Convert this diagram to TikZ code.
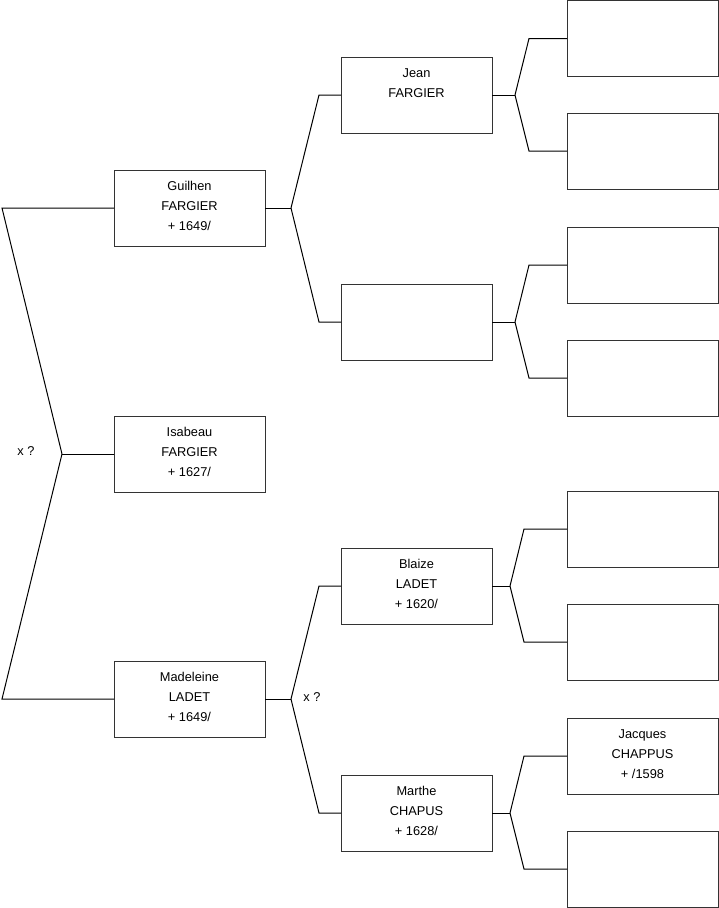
\documentclass[tikz,border=0pt]{standalone}
\usepackage{fontspec}
\setmainfont{Liberation Sans}
\usepackage{tikz}
\tikzset{
  fiche/.style = {draw=black!80,line width=1pt,minimum width=151pt,minimum height=76pt,
                  inner sep=0pt,outer sep=0pt,font=\fontsize{12.8}{19.8}\selectfont},
  lien/.style  = {black,line width=1pt},
  note/.style  = {font=\fontsize{12.8}{15}\selectfont,inner sep=0pt}
}
\newcommand{\nom}[1]{\parbox[c][76pt][t]{150pt}{\centering\rule{0pt}{20.6pt}#1}}

\begin{document}
\begin{tikzpicture}[x=1pt,y=-1pt]
  \useasboundingbox (0,0) rectangle (719,908);
  % generation 1 et 2
  \node[fiche] (isabeau)   at (189.5,454) {\nom{Isabeau\\FARGIER\\+ 1627/}};
  \node[fiche] (guilhen)   at (189.5,208) {\nom{Guilhen\\FARGIER\\+ 1649/}};
  \node[fiche] (madeleine) at (189.5,699) {\nom{Madeleine\\LADET\\+ 1649/}};
  % generation 3
  \node[fiche] (jean)   at (416.5,95)  {\nom{Jean\\FARGIER}};
  \node[fiche] (vide)   at (416.5,322) {};
  \node[fiche] (blaize) at (416.5,586) {\nom{Blaize\\LADET\\+ 1620/}};
  \node[fiche] (marthe) at (416.5,813) {\nom{Marthe\\CHAPUS\\+ 1628/}};
  % generation 4
  \node[fiche] (ja) at (642.5,38.5) {};
  \node[fiche] (jb) at (642.5,151)  {};
  \node[fiche] (va) at (642.5,265)  {};
  \node[fiche] (vb) at (642.5,378)  {};
  \node[fiche] (ba) at (642.5,529)  {};
  \node[fiche] (bb) at (642.5,642)  {};
  \node[fiche] (jacques) at (642.5,756) {\nom{Jacques\\CHAPPUS\\+ /1598}};
  \node[fiche] (cb) at (642.5,869)  {};

  % points de fourche
  \coordinate (r) at (62,454);
  \coordinate (g) at (291,208);
  \coordinate (m) at (291,699);
  \coordinate (j) at (515,95);
  \coordinate (v) at (515,322);
  \coordinate (b) at (510,586);
  \coordinate (c) at (510,813);

  \draw[lien] (isabeau.west) -- (r);
  \draw[lien] (r) -- ++(-60,-246) -- (guilhen.west);
  \draw[lien] (r) -- ++(-60,245) -- (madeleine.west);
  \node[note] (xa) at (26,451) {x ?};

  \draw[lien] (guilhen.east) -- (g);
  \draw[lien] (g) -- ++(28,-113) -- (jean.west);
  \draw[lien] (g) -- ++(28,114) -- (vide.west);

  \draw[lien] (madeleine.east) -- (m);
  \draw[lien] (m) -- ++(28,-113) -- (blaize.west);
  \draw[lien] (m) -- ++(28,114) -- (marthe.west);
  \node[note] (xb) at (312,697) {x ?};

  \draw[lien] (jean.east) -- (j);
  \draw[lien] (j) -- ++(14,-56.5) -- (ja.west);
  \draw[lien] (j) -- ++(14,56) -- (jb.west);

  \draw[lien] (vide.east) -- (v);
  \draw[lien] (v) -- ++(14,-57) -- (va.west);
  \draw[lien] (v) -- ++(14,56) -- (vb.west);

  \draw[lien] (blaize.east) -- (b);
  \draw[lien] (b) -- ++(14,-57) -- (ba.west);
  \draw[lien] (b) -- ++(14,56) -- (bb.west);

  \draw[lien] (marthe.east) -- (c);
  \draw[lien] (c) -- ++(14,-57) -- (jacques.west);
  \draw[lien] (c) -- ++(14,56) -- (cb.west);
\end{tikzpicture}
\end{document}
